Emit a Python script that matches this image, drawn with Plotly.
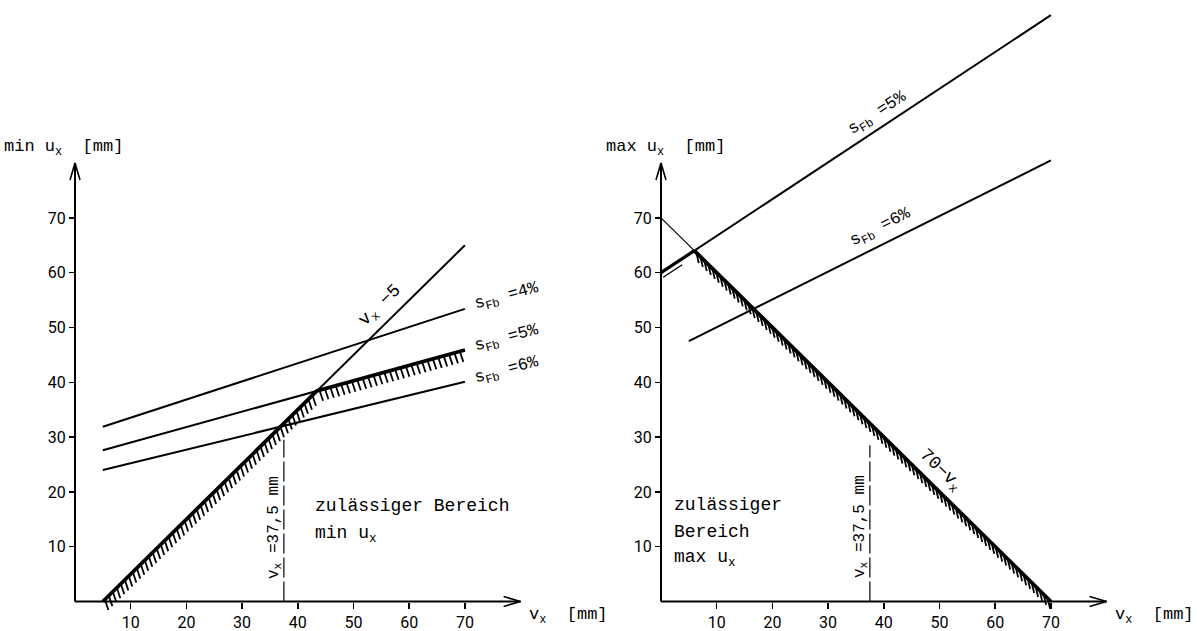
import math
import plotly.graph_objects as go

# ---------------- page geometry (pixels) ----------------
W, H = 1197, 631
SX, SY = 5.57, 5.48          # px per mm on x / y
LX0, RX0 = 75.0, 661.0       # pixel column of v_x = 0 (left / right panel)
Y0 = 601.5                   # pixel row of u_x = 0
SPLIT = 586.5                # pixel column where the two subplots meet

# ---------------- data ----------------
tick_vals = [10, 20, 30, 40, 50, 60, 70]
axis_end_x = 80
axis_end_y = 80
vx_limit = 37.5

# left panel: min u_x
left_vx5_x = [5, 70]
left_vx5_y = [0, 65]
left_s4_x = [5, 70]
left_s4_y = [31.9, 53.4]
left_s5_x = [5, 70]
left_s5_y = [27.6, 45.9]
left_s6_x = [5, 70]
left_s6_y = [24.0, 40.1]
left_dash_top = 29.5

# right panel: max u_x
right_70_x = [0, 70]
right_70_y = [70, 0]
right_s5_x = [0, 70]
right_s5_y = [60.0, 107.0]
right_s6_x = [5, 70]
right_s6_y = [47.5, 80.5]
right_dash_top = 28.5


def intersect(ax, ay, bx, by):
    m1 = (ay[1] - ay[0]) / (ax[1] - ax[0])
    c1 = ay[0] - m1 * ax[0]
    m2 = (by[1] - by[0]) / (bx[1] - bx[0])
    c2 = by[0] - m2 * bx[0]
    x = (c2 - c1) / (m1 - m2)
    return x, m1 * x + c1


def hatch(px, py, spacing, d):
    xs, ys = [], []
    for i in range(len(px) - 1):
        x0, y0, x1, y1 = px[i], py[i], px[i + 1], py[i + 1]
        L = math.hypot((x1 - x0) * SX, (y1 - y0) * SY)
        n = int(L // spacing)
        for k in range(n):
            t = (k + 0.5) * spacing / L
            x = x0 + t * (x1 - x0)
            y = y0 + t * (y1 - y0)
            xs += [x, x + d[0] / SX, None]
            ys += [y, y - d[1] / SY, None]
    return xs, ys


fig = go.Figure()
BLACK = "black"


def line(xs, ys, width=2, axis=1, dash=None):
    fig.add_trace(go.Scatter(
        x=xs, y=ys, mode="lines", hoverinfo="skip", showlegend=False,
        xaxis="x" if axis == 1 else "x2", yaxis="y" if axis == 1 else "y2",
        line=dict(color=BLACK, width=width, dash=dash)))


def axes_arrows(axis):
    # axis lines with open arrow heads
    line([0, axis_end_x], [0, 0], 2, axis)
    line([0, 0], [0, axis_end_y], 2, axis)
    line([axis_end_x - 17 / SX, axis_end_x, axis_end_x - 17 / SX],
         [5 / SY, 0, -5 / SY], 1.6, axis)
    line([-5 / SX, 0, 5 / SX],
         [axis_end_y - 17 / SY, axis_end_y, axis_end_y - 17 / SY], 1.6, axis)


# ---------- left panel ----------
axes_arrows(1)
lp1 = intersect(left_vx5_x, left_vx5_y, left_s5_x, left_s5_y)
bx = [left_vx5_x[0], lp1[0], left_s5_x[1]]
by = [left_vx5_y[0], lp1[1], left_s5_y[1]]
hx, hy = hatch(bx, by, 5.6, (3.5, 10.5))
line(hx, hy, 1.8, 1)
line(left_vx5_x, left_vx5_y, 2, 1)
line(left_s4_x, left_s4_y, 2, 1)
line(left_s5_x, left_s5_y, 2, 1)
line(left_s6_x, left_s6_y, 2, 1)
line(bx, by, 3.8, 1)
line([vx_limit, vx_limit], [0, left_dash_top], 1.2, 1, dash="20px,4px")

# ---------- right panel ----------
axes_arrows(2)
rp = intersect(right_70_x, right_70_y, right_s5_x, right_s5_y)
rbx = [rp[0], right_70_x[1]]
rby = [rp[1], right_70_y[1]]
hx, hy = hatch(rbx, rby, 5.6, (2.5, 10.5))
line(hx, hy, 1.8, 2)
line([right_70_x[0], rp[0]], [right_70_y[0], rp[1]], 1.2, 2)
line(right_s5_x, right_s5_y, 2, 2)
line([right_s5_x[0], rp[0]], [right_s5_y[0], rp[1]], 3.2, 2)
m5 = (right_s5_y[1] - right_s5_y[0]) / (right_s5_x[1] - right_s5_x[0])
line([0.4, 3.8], [right_s5_y[0] + m5 * 0.4 - 6 / SY, right_s5_y[0] + m5 * 3.8 - 6 / SY], 1.4, 2)
line(right_s6_x, right_s6_y, 2, 2)
line(rbx, rby, 3.8, 2)
line([vx_limit, vx_limit], [0, right_dash_top], 1.2, 2, dash="20px,4px")

# ---------- axes ----------
yr = [(Y0 - H) / SY, Y0 / SY]
tickfont = dict(family="Roboto", size=16, color=BLACK)
common_x = dict(showgrid=False, zeroline=False, showline=False, ticks="outside",
                ticklen=6, tickwidth=1.5, tickcolor=BLACK, tickvals=tick_vals,
                tickfont=tickfont, anchor="free", position=(H - Y0) / H, fixedrange=True)
common_y = dict(showgrid=False, zeroline=False, showline=False, ticks="outside",
                ticklen=6, tickwidth=1.5, tickcolor=BLACK, tickvals=tick_vals,
                tickfont=tickfont, anchor="free", domain=[0, 1], range=yr, fixedrange=True)

fig.update_layout(
    width=W, height=H, margin=dict(l=0, r=0, t=0, b=0),
    paper_bgcolor="white", plot_bgcolor="white", showlegend=False,
    xaxis=dict(common_x, domain=[0, SPLIT / W], range=[-LX0 / SX, (SPLIT - LX0) / SX]),
    yaxis=dict(common_y, position=LX0 / W),
    xaxis2=dict(common_x, domain=[SPLIT / W, 1], range=[(SPLIT - RX0) / SX, (W - RX0) / SX]),
    yaxis2=dict(common_y, position=RX0 / W),
)


def ann(text, xpx, ypx, size=17, angle=0, xanchor="center", yanchor="middle"):
    return dict(text=text, x=xpx / W, y=1 - ypx / H, xref="paper", yref="paper",
                showarrow=False, textangle=angle, xanchor=xanchor, yanchor=yanchor,
                font=dict(family="Liberation Mono", size=size, color=BLACK))


anns = [
    # left panel
    ann("min u<sub>x</sub>  [mm]", 2, 148, 17, xanchor="left"),
    ann("v<sub>x</sub>  [mm]", 527, 616, 17, xanchor="left"),
    ann("v<sub>x</sub> −5", 380, 306, 18, angle=-44),
    ann("s<sub>Fb</sub> =4%", 507, 297, 17, angle=-15),
    ann("s<sub>Fb</sub> =5%", 507, 339, 17, angle=-15),
    ann("s<sub>Fb</sub> =6%", 507, 371, 17, angle=-15),
    ann("v<sub>x</sub> =37,5 mm", 274, 528, 16, angle=-90),
    ann("zulässiger Bereich", 313, 506, 18, xanchor="left"),
    ann("min u<sub>x</sub>", 313, 534, 18, xanchor="left"),
    # right panel
    ann("max u<sub>x</sub>  [mm]", 727, 148, 17, xanchor="right"),
    ann("v<sub>x</sub>  [mm]", 1113, 616, 17, xanchor="left"),
    ann("s<sub>Fb</sub> =5%", 878, 114, 17, angle=-33),
    ann("s<sub>Fb</sub> =6%", 881, 228, 17, angle=-27),
    ann("70−v<sub>x</sub>", 940, 470, 18, angle=44),
    ann("v<sub>x</sub> =37,5 mm", 860, 527, 16, angle=-90),
    ann("zulässiger", 672, 505, 18, xanchor="left"),
    ann("Bereich", 672, 532, 18, xanchor="left"),
    ann("max u<sub>x</sub>", 672, 558, 18, xanchor="left"),
]
fig.update_layout(annotations=anns)

fig.write_html(
    "out.html",
    config={"displayModeBar": False, "staticPlot": True},
    post_script="document.body.style.margin='0';document.body.style.overflow='hidden';",
)
